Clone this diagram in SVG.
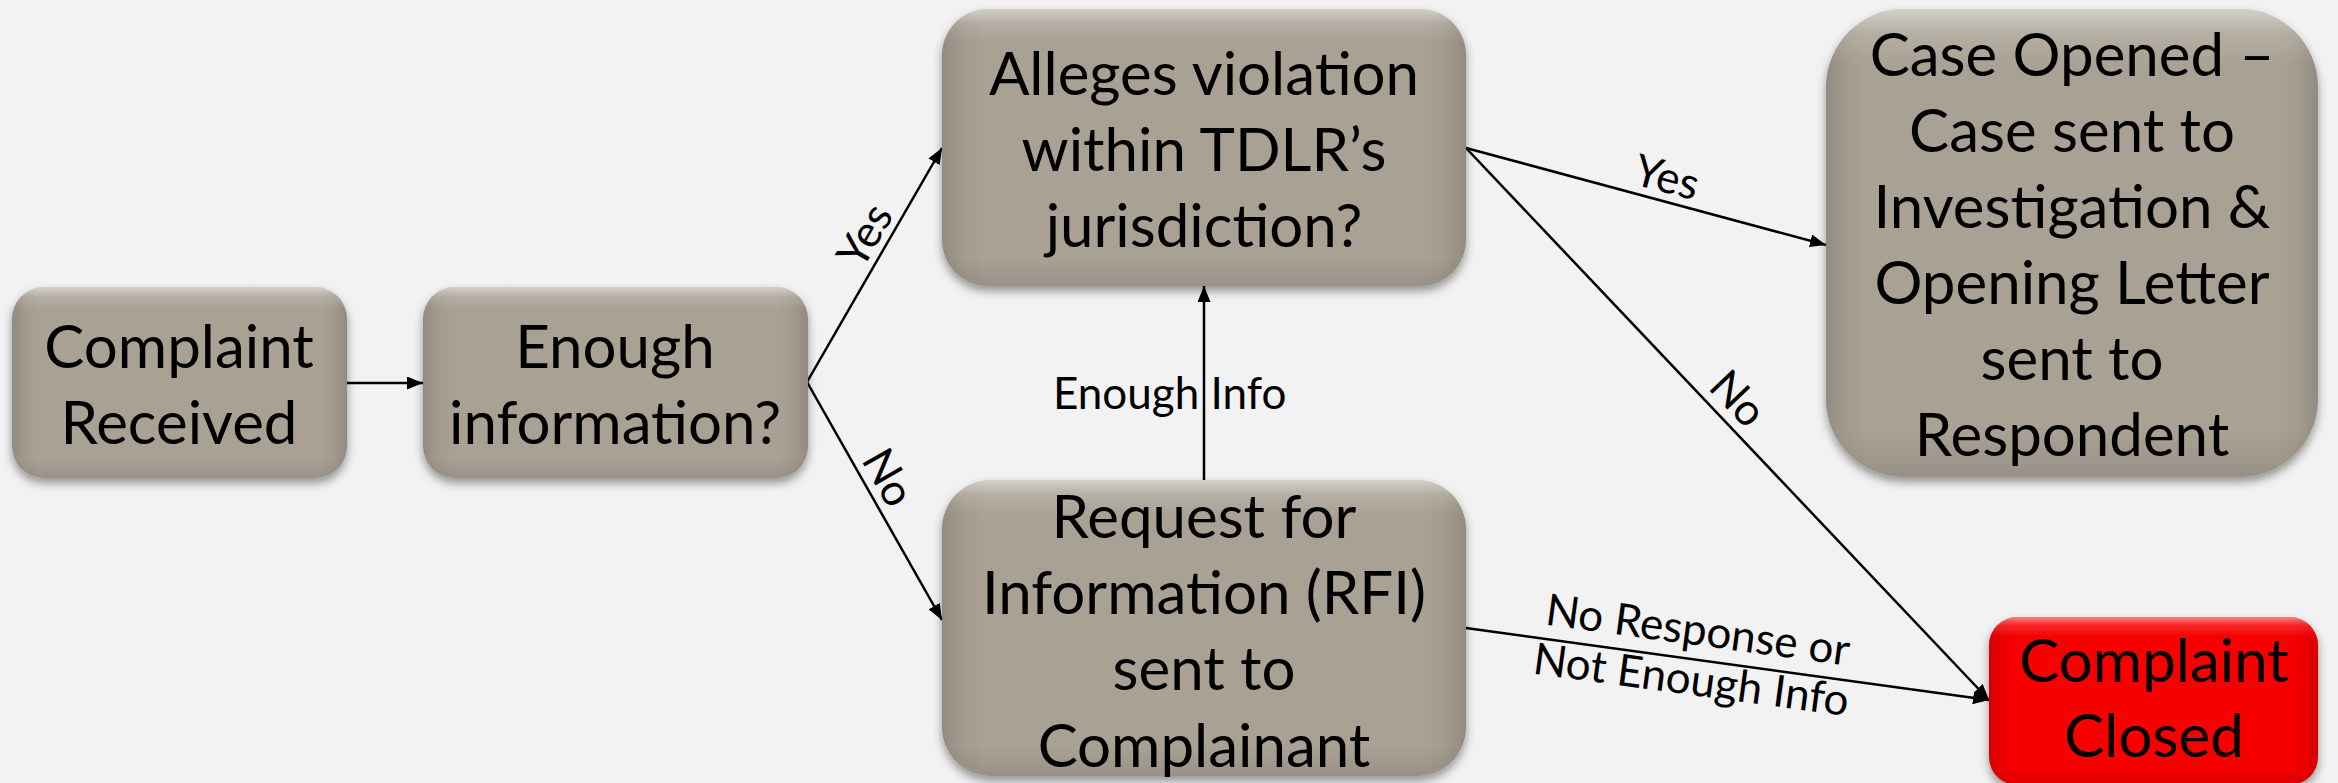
<svg xmlns="http://www.w3.org/2000/svg" width="2338" height="783" viewBox="0 0 2338 783">
  <defs>
    <style>
      .bg { fill: #f2f2f2; }
      .box { fill: #a9a194; filter: url(#shadow); }
      .red { fill: #f60000; filter: url(#shadow); }
      .hl { fill: url(#gV); }
      .ed { fill: url(#gH); }
      .node text { font-family: Lato, "Open Sans", "DejaVu Sans", sans-serif; font-size: 60px; fill: #000; text-anchor: middle; }
      .conn line { stroke: #000; stroke-width: 2.5; fill: none; marker-end: url(#arr); }
      .lbl { font-family: Lato, "Open Sans", "DejaVu Sans", sans-serif; font-size: 44px; fill: #000; text-anchor: middle; }
    </style>
    <filter id="shadow" x="-10%" y="-10%" width="120%" height="125%">
      <feDropShadow dx="0" dy="5" stdDeviation="5" flood-color="#000" flood-opacity="0.4"/>
    </filter>
    <linearGradient id="gV" x1="0" y1="0" x2="0" y2="1">
      <stop offset="0" stop-color="#fff" stop-opacity="0.5"/>
      <stop offset="0.05" stop-color="#fff" stop-opacity="0.15"/>
      <stop offset="0.12" stop-color="#fff" stop-opacity="0"/>
      <stop offset="0.9" stop-color="#000" stop-opacity="0"/>
      <stop offset="1" stop-color="#000" stop-opacity="0.1"/>
    </linearGradient>
    <linearGradient id="gH" x1="0" y1="0" x2="1" y2="0">
      <stop offset="0" stop-color="#000" stop-opacity="0.14"/>
      <stop offset="0.04" stop-color="#000" stop-opacity="0.04"/>
      <stop offset="0.08" stop-color="#000" stop-opacity="0"/>
      <stop offset="0.92" stop-color="#000" stop-opacity="0"/>
      <stop offset="0.96" stop-color="#000" stop-opacity="0.04"/>
      <stop offset="1" stop-color="#000" stop-opacity="0.14"/>
    </linearGradient>
    <marker id="arr" markerUnits="userSpaceOnUse" markerWidth="17" markerHeight="13" refX="16" refY="6.5" orient="auto">
      <path d="M0,0 L16,6.5 L0,13 z" fill="#000"/>
    </marker>
  </defs>

  <rect class="bg" x="0" y="0" width="2338" height="783"/>

  <g id="connectors" class="conn">
    <line x1="347" y1="383" x2="423" y2="383"/>
    <line x1="807" y1="382" x2="942" y2="148"/>
    <line x1="807" y1="382" x2="942" y2="620"/>
    <line x1="1204" y1="480" x2="1204" y2="286"/>
    <line x1="1466" y1="148" x2="1826" y2="245"/>
    <line x1="1466" y1="148" x2="1989" y2="700"/>
    <line x1="1466" y1="628" x2="1989" y2="700"/>
  </g>

  <g id="connector-labels">
    <text class="lbl" transform="translate(878,243) rotate(-59.9)">Yes</text>
    <text class="lbl" transform="translate(875,485) rotate(60.4)">No</text>
    <text class="lbl" x="1053" y="409" style="text-anchor:start">Enough Info</text>
    <text class="lbl" transform="translate(1663,192) rotate(14.8)">Yes</text>
    <text class="lbl" transform="translate(1727,409) rotate(46.5)">No</text>
    <g transform="translate(1694,659) rotate(7.7)">
      <text class="lbl" x="0" y="-14">No Response or</text>
      <text class="lbl" x="0" y="36">Not Enough Info</text>
    </g>
  </g>

  <g id="node-complaint-received" class="node">
    <rect class="box" x="12" y="287" width="335" height="191" rx="32"/>
    <rect class="ed" x="12" y="287" width="335" height="191" rx="32"/>
    <rect class="hl" x="12" y="287" width="335" height="191" rx="32"/>
    <text x="179" y="368">Complaint</text>
    <text x="179" y="444">Received</text>
  </g>

  <g id="node-enough-information" class="node">
    <rect class="box" x="423" y="287" width="385" height="191" rx="32"/>
    <rect class="ed" x="423" y="287" width="385" height="191" rx="32"/>
    <rect class="hl" x="423" y="287" width="385" height="191" rx="32"/>
    <text x="615" y="368">Enough</text>
    <text x="615" y="444">information?</text>
  </g>

  <g id="node-alleges-violation" class="node">
    <rect class="box" x="942" y="9" width="524" height="277" rx="46"/>
    <rect class="ed" x="942" y="9" width="524" height="277" rx="46"/>
    <rect class="hl" x="942" y="9" width="524" height="277" rx="46"/>
    <text x="1204" y="95">Alleges violation</text>
    <text x="1204" y="171">within TDLR’s</text>
    <text x="1204" y="247">jurisdiction?</text>
  </g>

  <g id="node-case-opened" class="node">
    <rect class="box" x="1826" y="9" width="492" height="468" rx="78"/>
    <rect class="ed" x="1826" y="9" width="492" height="468" rx="78"/>
    <rect class="hl" x="1826" y="9" width="492" height="468" rx="78"/>
    <text x="2072" y="76">Case Opened –</text>
    <text x="2072" y="152">Case sent to</text>
    <text x="2072" y="228">Investigation &amp;</text>
    <text x="2072" y="304">Opening Letter</text>
    <text x="2072" y="380">sent to</text>
    <text x="2072" y="456">Respondent</text>
  </g>

  <g id="node-rfi" class="node">
    <rect class="box" x="942" y="480" width="524" height="296" rx="49"/>
    <rect class="ed" x="942" y="480" width="524" height="296" rx="49"/>
    <rect class="hl" x="942" y="480" width="524" height="296" rx="49"/>
    <text x="1204" y="538">Request for</text>
    <text x="1204" y="614">Information (RFI)</text>
    <text x="1204" y="690">sent to</text>
    <text x="1204" y="767">Complainant</text>
  </g>

  <g id="node-complaint-closed" class="node">
    <rect class="red" x="1989" y="617" width="329" height="168" rx="28"/>
    <rect class="ed" x="1989" y="617" width="329" height="168" rx="28"/>
    <rect class="hl" x="1989" y="617" width="329" height="168" rx="28"/>
    <text x="2154" y="682">Complaint</text>
    <text x="2154" y="757">Closed</text>
  </g>
</svg>
